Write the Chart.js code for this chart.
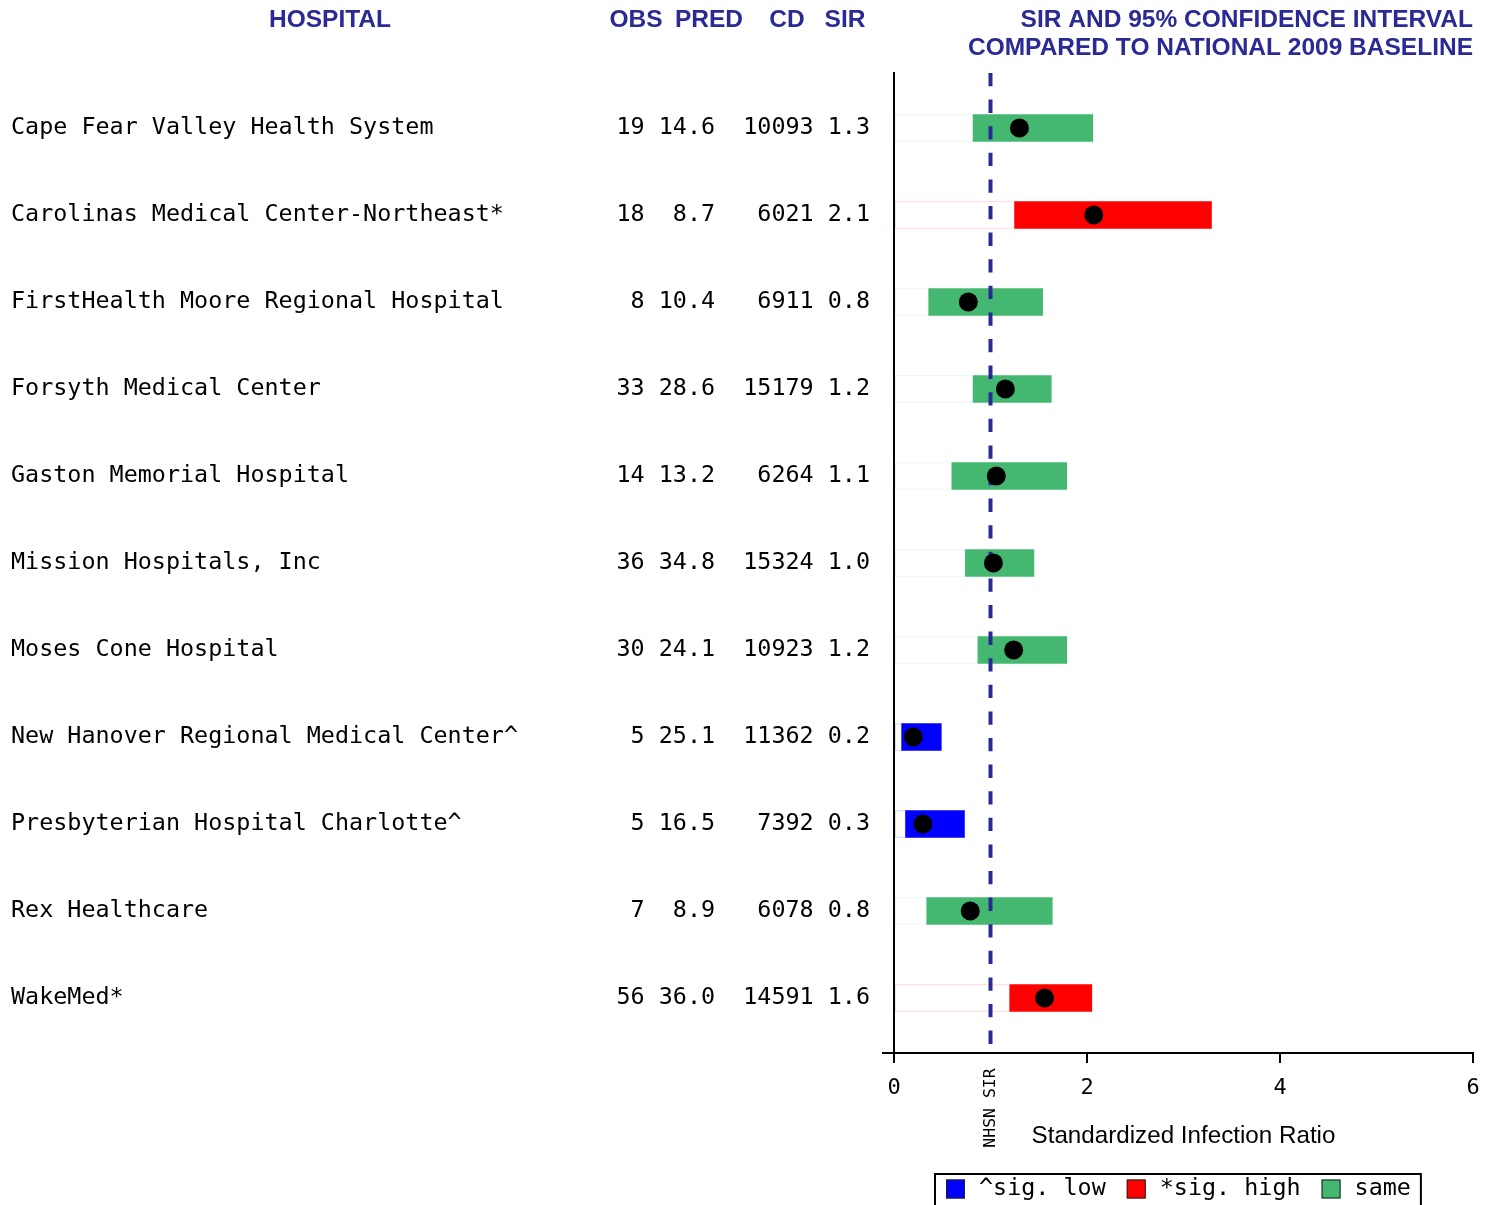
<!DOCTYPE html>
<html>
<head>
<meta charset="utf-8">
<title>SIR by hospital</title>
<script src="https://cdn.jsdelivr.net/npm/chart.js@4/dist/chart.umd.min.js"></script>
<style>
  html, body { margin: 0; padding: 0; background: #fff; }
  #wrap { position: relative; width: 1497px; height: 1205px; }
</style>
</head>
<body>
<div id="wrap"><canvas id="sirChart"></canvas></div>
<script>
/* --------------- Data --------------------- */
const hospitals = [
  "Cape Fear Valley Health System",
  "Carolinas Medical Center-Northeast*",
  "FirstHealth Moore Regional Hospital",
  "Forsyth Medical Center",
  "Gaston Memorial Hospital",
  "Mission Hospitals, Inc",
  "Moses Cone Hospital",
  "New Hanover Regional Medical Center^",
  "Presbyterian Hospital Charlotte^",
  "Rex Healthcare",
  "WakeMed*",
];
const obs = [19, 18, 8, 33, 14, 36, 30, 5, 5, 7, 56];
const pred = [14.6, 8.7, 10.4, 28.6, 13.2, 34.8, 24.1, 25.1, 16.5, 8.9, 36.0];
const cd = [10093, 6021, 6911, 15179, 6264, 15324, 10923, 11362, 7392, 6078, 14591];
const sir = [1.30, 2.07, 0.77, 1.154, 1.06, 1.03, 1.24, 0.20, 0.30, 0.79, 1.56];
const ciLow = [0.82, 1.25, 0.36, 0.82, 0.60, 0.74, 0.87, 0.08, 0.12, 0.34, 1.20];
const ciHigh = [2.06, 3.29, 1.54, 1.63, 1.79, 1.45, 1.79, 0.49, 0.73, 1.64, 2.05];
const status = ["same", "high", "same", "same", "same", "same", "same", "low", "low", "same", "high"];
const baseline = 1; // national 2009 SIR
const xTicks = [0, 2, 4, 6];

const legendItems = [
  { key: "low", label: "^sig. low" },
  { key: "high", label: "*sig. high" },
  { key: "same", label: "same" },
];

/* --------------- Styles --------------------- */
const fill = { low: "#0000ff", high: "#ff0000", same: "#44b870" };
const tint = { low: "rgba(0,0,255,0.22)", high: "rgba(255,0,0,0.2)", same: "rgba(68,184,112,0.15)" };
const navy = "#2a2a94";
const MONO = "'DejaVu Sans Mono', monospace";
const SANS = "'Liberation Sans', Arial, sans-serif";
const monoSize = 23.4;

// one monospace line per row: name, OBS, PRED, CD, SIR
const rowLabel = (i) =>
  hospitals[i].padEnd(43) +
  String(obs[i]).padStart(2) +
  pred[i].toFixed(1).padStart(5) +
  String(cd[i]).padStart(7) +
  sir[i].toFixed(1).padStart(4);

/* --------------- Extra drawing --------------------- */
const decorations = {
  id: "decorations",
  afterDatasetDraw(chart, args) {
    // dashed national baseline sits over the bars, under the dots
    if (args.index !== 1) return;
    const { ctx, chartArea } = chart;
    const x = chart.scales.x.getPixelForValue(baseline);
    ctx.save();
    ctx.strokeStyle = navy;
    ctx.lineWidth = 4;
    ctx.setLineDash([13.3, 13.3]);
    ctx.beginPath();
    ctx.moveTo(x, chartArea.top);
    ctx.lineTo(x, chartArea.bottom);
    ctx.stroke();
    ctx.restore();
  },
  afterDraw(chart) {
    const { ctx, chartArea } = chart;
    ctx.save();

    // x axis stub left of zero
    ctx.strokeStyle = "#000";
    ctx.lineWidth = 2;
    ctx.beginPath();
    ctx.moveTo(chartArea.left - 12, chartArea.bottom);
    ctx.lineTo(chartArea.left, chartArea.bottom);
    ctx.stroke();

    // headers
    ctx.fillStyle = navy;
    ctx.font = "bold 24.5px " + SANS;
    ctx.textBaseline = "middle";
    ctx.textAlign = "center";
    ctx.fillText("HOSPITAL", 330, 20);
    ctx.fillText("OBS", 636, 20);
    ctx.fillText("PRED", 709, 20);
    ctx.fillText("CD", 787, 20);
    ctx.fillText("SIR", 845, 20);
    ctx.textAlign = "right";
    ctx.fillText("SIR AND 95% CONFIDENCE INTERVAL", chartArea.right, 20);
    ctx.fillText("COMPARED TO NATIONAL 2009 BASELINE", chartArea.right, 48);

    // NHSN SIR label under the baseline
    const bx = chart.scales.x.getPixelForValue(baseline);
    ctx.save();
    ctx.translate(bx, 1108);
    ctx.rotate(-Math.PI / 2);
    ctx.fillStyle = "#000";
    ctx.font = "16.5px " + MONO;
    ctx.textAlign = "center";
    ctx.textBaseline = "middle";
    ctx.fillText("NHSN SIR", 0, 0);
    ctx.restore();

    // legend box
    ctx.font = monoSize + "px " + MONO;
    ctx.textAlign = "left";
    ctx.textBaseline = "middle";
    const box = 19, gapText = 14, gapItem = 21;
    let lx = 946;
    const ly = 1189;
    let startX = lx;
    legendItems.forEach((item, k) => {
      ctx.fillStyle = fill[item.key];
      ctx.fillRect(lx, ly - box / 2, box, box);
      ctx.strokeStyle = "#222";
      ctx.lineWidth = 1;
      ctx.strokeRect(lx + 0.5, ly - box / 2 + 0.5, box - 1, box - 1);
      lx += box + gapText;
      ctx.fillStyle = "#000";
      ctx.fillText(item.label, lx, ly);
      lx += ctx.measureText(item.label).width;
      if (k < legendItems.length - 1) lx += gapItem;
    });
    ctx.strokeStyle = "#000";
    ctx.lineWidth = 2;
    ctx.strokeRect(startX - 11, 1174, lx - startX + 21, 40);

    ctx.restore();
  },
};

/* --------------- Chart --------------------- */
const rows = hospitals.map((_, i) => i);

new Chart(document.getElementById("sirChart"), {
  type: "bar",
  plugins: [decorations],
  data: {
    datasets: [
      {
        label: "SIR",
        type: "line",
        data: rows.map((i) => ({ x: sir[i], y: i })),
        showLine: false,
        pointRadius: 9.5,
        pointBackgroundColor: "#000",
        pointBorderWidth: 0,
        order: 1,
      },
      {
        label: "95% CI",
        data: rows.map((i) => ({ x: [ciLow[i], ciHigh[i]], y: i })),
        backgroundColor: rows.map((i) => fill[status[i]]),
        borderWidth: 0,
        barThickness: 27,
        grouped: false,
        order: 2,
      },
      {
        label: "below CI",
        data: rows.map((i) => ({ x: [0, ciLow[i]], y: i })),
        backgroundColor: "#fff",
        borderColor: rows.map((i) => tint[status[i]]),
        borderWidth: 1,
        borderSkipped: false,
        barThickness: 27,
        grouped: false,
        order: 3,
      },
    ],
  },
  options: {
    indexAxis: "y",
    responsive: true,
    maintainAspectRatio: false,
    animation: false,
    layout: { padding: { left: 11, top: 73, right: 24, bottom: 0 } },
    plugins: {
      legend: { display: false },
      tooltip: { enabled: false },
    },
    scales: {
      x: {
        type: "linear",
        min: 0,
        max: 6,
        afterBuildTicks: (s) => { s.ticks = xTicks.map((v) => ({ value: v })); },
        afterFit: (s) => { s.height = 152; },
        ticks: {
          color: "#000",
          font: { family: MONO, size: 22 },
          padding: 12,
        },
        grid: {
          display: true,
          drawOnChartArea: false,
          drawTicks: true,
          tickLength: 10,
          color: "#000",
          lineWidth: 2,
        },
        border: { display: true, color: "#000", width: 2 },
        title: {
          display: true,
          text: "Standardized Infection Ratio",
          color: "#000",
          font: { family: SANS, size: 24.2 },
          padding: { top: 0, bottom: 54.5 },
        },
      },
      y: {
        type: "linear",
        reverse: true,
        offset: false,
        min: -0.632,
        max: 10.632,
        afterBuildTicks: (s) => { s.ticks = rows.map((i) => ({ value: i })); },
        afterFit: (s) => { s.width = 883; },
        ticks: {
          callback: (v) => rowLabel(v),
          color: "#000",
          font: { family: MONO, size: monoSize },
          crossAlign: "far",
          padding: 24,
          autoSkip: false,
        },
        grid: { display: false, drawTicks: false, offset: false },
        border: { display: true, color: "#000", width: 2 },
      },
    },
  },
});
</script>
</body>
</html>
